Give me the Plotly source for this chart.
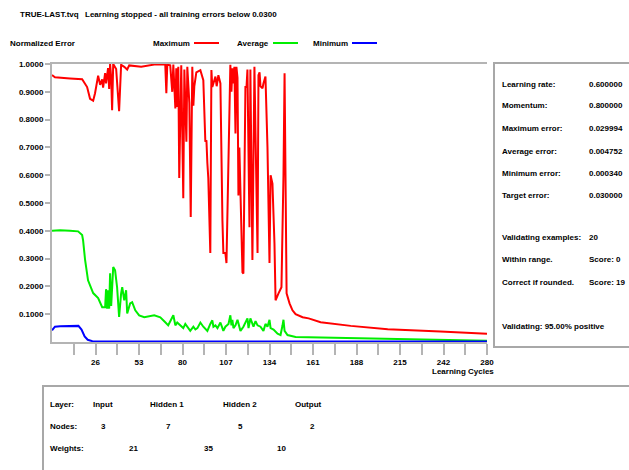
import plotly.graph_objects as go

# ---------------- data ----------------
max_x = [0, 1.9, 11.6, 19.4, 22.6, 24.5, 26.5, 27.7, 29.7, 31.0, 32.3, 32.9, 34.2, 34.8, 36.1, 36.8,
         37.4, 38.1, 38.7, 39.4, 41.3, 43.2, 44.5, 46.5, 48.4, 49.7, 57.4, 65.8, 72.9, 73.6, 74.2,
         76.1, 77.4, 78.1, 79.4, 80.0, 80.6, 81.3, 81.9, 82.6, 83.2, 84.5, 85.2, 86.5, 87.1, 88.4,
         89.3, 90.3, 91.0, 91.6, 92.9, 95.5, 97.4, 98.7, 99.4, 100.0, 100.6, 101.9, 102.6, 103.2,
         103.9, 105.2, 106.0, 107.1, 108.4, 109.0, 109.7, 110.3, 111.6, 112.3, 113.0, 114.8, 115.5,
         116.1, 116.8, 117.4, 118.1, 118.7, 119.4, 120.0, 120.6, 121.3, 122.6, 123.2, 124.5, 125.2,
         125.8, 127.1, 127.7, 129.0, 130.3, 131.0, 132.3, 132.9, 133.6, 134.2, 135.5, 136.1, 136.8,
         137.4, 138.7, 140.0, 140.7, 141.9, 143.2, 143.9, 145.8, 147.7, 149.0, 149.7, 150.3, 151.0,
         152.9, 154.8, 156.8, 161.3, 165.2, 172.9, 192.3, 216.1, 250.0, 280.0]
max_y = [0.960, 0.952, 0.948, 0.945, 0.917, 0.875, 0.868, 0.895, 0.958, 0.925, 0.945, 0.915, 0.967,
         0.930, 0.985, 0.910, 1.000, 0.950, 0.834, 1.000, 0.982, 0.830, 0.997, 0.990, 0.980, 0.995,
         0.990, 0.998, 0.998, 0.895, 0.998, 0.995, 0.900, 0.998, 0.840, 0.985, 0.845, 0.990, 0.590,
         0.770, 0.995, 0.517, 0.980, 0.720, 0.990, 0.860, 0.450, 0.990, 0.850, 0.920, 0.970, 0.978,
         0.942, 0.720, 0.726, 0.644, 0.590, 0.320, 0.978, 0.917, 0.930, 0.955, 0.920, 0.960, 0.930,
         0.590, 0.437, 0.320, 0.320, 0.284, 0.500, 0.997, 0.900, 0.985, 0.930, 0.990, 0.750, 0.990,
         0.950, 0.527, 0.700, 0.535, 0.250, 0.246, 0.917, 0.917, 0.980, 0.413, 0.980, 0.295, 0.990,
         0.750, 0.320, 0.960, 0.970, 0.920, 0.913, 0.930, 0.950, 0.955, 0.700, 0.284, 0.600, 0.570,
         0.354, 0.150, 0.175, 0.197, 0.600, 0.967, 0.600, 0.175, 0.139, 0.114, 0.100, 0.089, 0.085,
         0.071, 0.058, 0.046, 0.038, 0.030]

avg_x = [0, 5.2, 11.6, 16.8, 19.4, 20.0, 21.3, 23.2, 26.5, 29.7, 32.3, 34.2, 34.8, 35.5, 36.1, 36.8,
         37.4, 38.1, 39.4, 40.6, 41.9, 43.2, 44.5, 45.2, 46.5, 47.7, 48.4, 50.3, 51.6, 53.6, 56.1,
         59.4, 65.8, 69.7, 72.9, 74.8, 78.1, 79.4, 80.6, 82.6, 84.5, 85.8, 87.1, 89.0, 91.0, 92.3,
         93.6, 95.5, 97.4, 100.0, 101.9, 103.2, 103.9, 105.2, 106.5, 108.4, 110.3, 111.6, 113.6,
         114.8, 115.5, 116.1, 116.8, 118.1, 119.4, 121.3, 123.2, 125.8, 126.5, 127.7, 129.7, 131.0,
         132.3, 134.2, 136.1, 137.4, 138.7, 140.0, 140.7, 142.6, 145.2, 147.1, 148.4, 149.0, 149.7,
         151.6, 156.8, 165.2, 185.8, 220.0, 250.0, 280.0]
avg_y = [0.400, 0.402, 0.400, 0.398, 0.385, 0.366, 0.295, 0.222, 0.176, 0.158, 0.125, 0.125, 0.190,
         0.120, 0.186, 0.120, 0.247, 0.130, 0.270, 0.258, 0.197, 0.090, 0.175, 0.197, 0.150, 0.186,
         0.103, 0.139, 0.143, 0.114, 0.096, 0.089, 0.096, 0.089, 0.071, 0.060, 0.096, 0.060, 0.070,
         0.060, 0.050, 0.065, 0.055, 0.040, 0.055, 0.045, 0.050, 0.070, 0.055, 0.040, 0.065, 0.078,
         0.055, 0.060, 0.050, 0.070, 0.040, 0.055, 0.065, 0.096, 0.060, 0.080, 0.050, 0.060, 0.080,
         0.040, 0.055, 0.085, 0.050, 0.085, 0.055, 0.075, 0.060, 0.055, 0.040, 0.065, 0.055, 0.080,
         0.050, 0.045, 0.030, 0.025, 0.060, 0.080, 0.040, 0.025, 0.018, 0.017, 0.013, 0.010, 0.007,
         0.0048]

min_x = [0, 1.9, 5.2, 11.6, 14.0, 17.0, 19.0, 21.0, 23.0, 26.0, 40.0, 280.0]
min_y = [0.042, 0.055, 0.057, 0.058, 0.060, 0.058, 0.045, 0.020, 0.008, 0.003, 0.002, 0.0015]

series_names = ["Maximum", "Average", "Minimum"]
series_colors = ["#ff0000", "#00ee00", "#0000ff"]

x_tick_vals = [14, 28, 42, 56, 70, 84, 98, 112, 126, 140, 154, 168, 182, 196, 210, 224, 238, 252, 266, 280]
x_tick_text = ["", "26", "", "53", "", "80", "", "107", "", "134", "", "161", "", "188", "", "215", "", "242", "", "280"]
y_tick_vals = [0.1, 0.2, 0.3, 0.4, 0.5, 0.6, 0.7, 0.8, 0.9, 1.0]
y_tick_text = ["0.1000", "0.2000", "0.3000", "0.4000", "0.5000", "0.6000", "0.7000", "0.8000", "0.9000", "1.0000"]

file_name = "TRUE-LAST.tvq"
status_text = "Learning stopped - all training errors below 0.0300"
y_title = "Normalized Error"
x_title = "Learning Cycles"

stat_labels = ["Learning rate:", "Momentum:", "Maximum error:", "Average error:", "Minimum error:", "Target error:"]
stat_values = ["0.600000", "0.800000", "0.029994", "0.004752", "0.000340", "0.030000"]
valid_labels = ["Validating examples:", "Within range.", "Correct if rounded."]
valid_values = ["20", "Score: 0", "Score: 19"]
valid_summary = "Validating: 95.00% positive"

layer_names = ["Input", "Hidden 1", "Hidden 2", "Output"]
layer_nodes = ["3", "7", "5", "2"]
layer_weights = ["21", "35", "10"]

# ---------------- layout helpers ----------------
W, H = 629, 470
PL, PR, PT, PB = 52, 487, 64, 342
FONT = "Liberation Sans, Arial, sans-serif"
FS = 8
GRAY = "#b4b4b4"


def fx(px):
    return (px - PL) / (PR - PL)


def fy(py):
    return (PB - py) / (PB - PT)


fig = go.Figure()
for xs, ys, name, col in zip([max_x, avg_x, min_x], [max_y, avg_y, min_y], series_names, series_colors):
    fig.add_trace(go.Scatter(x=xs, y=ys, mode="lines", name=name,
                             line=dict(color=col, width=2), showlegend=False))

annotations = []
shapes = []


def txt(px, py, s, anchor="left", size=FS):
    annotations.append(dict(x=fx(px), y=fy(py), xref="paper", yref="paper", text=s,
                            showarrow=False, xanchor=anchor, yanchor="middle",
                            borderpad=0,
                            font=dict(family=FONT, size=size, color="#000000", weight=700)))


txt(19, 15, file_name)
txt(84, 15, status_text)
txt(9, 43, y_title)

leg_x = [158, 237, 316]
for lx, name, col in zip(leg_x, series_names, series_colors):
    txt(lx + 33, 43, name, anchor="right")
    shapes.append(dict(type="line", xref="paper", yref="paper", x0=fx(lx + 36), x1=fx(lx + 61),
                       y0=fy(43), y1=fy(43), line=dict(color=col, width=2)))

txt(495, 371, x_title, anchor="right")

# right panel
shapes.append(dict(type="rect", xref="paper", yref="paper", x0=fx(494), x1=fx(632), y0=fy(63), y1=fy(347),
                   line=dict(color="#a8a8a8", width=2), fillcolor="rgba(0,0,0,0)"))
row_y = [84, 106, 128, 151, 173, 195]
for ry, lab, val in zip(row_y, stat_labels, stat_values):
    txt(501, ry, lab)
    txt(588, ry, val)
vrow_y = [237, 259, 282]
for ry, lab, val in zip(vrow_y, valid_labels, valid_values):
    txt(501, ry, lab)
    txt(588, ry, val)
txt(501, 326, valid_summary)

# bottom panel
shapes.append(dict(type="rect", xref="paper", yref="paper", x0=fx(43), x1=fx(632), y0=fy(386), y1=fy(475),
                   line=dict(color="#a8a8a8", width=2), fillcolor="rgba(0,0,0,0)"))
txt(49, 404, "Layer:")
txt(49, 426, "Nodes:")
txt(49, 448, "Weights:")
for lx, s in zip([92, 149, 222, 294], layer_names):
    txt(lx, 404, s)
for lx, s in zip([100, 165, 237, 309], layer_nodes):
    txt(lx, 426, s)
for lx, s in zip([128, 203, 276], layer_weights):
    txt(lx, 448, s)

fig.update_layout(
    width=W, height=H,
    margin=dict(l=PL, r=W - PR, t=PT, b=H - PB),
    paper_bgcolor="white", plot_bgcolor="white",
    annotations=annotations, shapes=shapes,
    xaxis=dict(range=[0, 280], tickmode="array", tickvals=x_tick_vals, ticktext=x_tick_text,
               automargin=False,
               showgrid=False, zeroline=False, showline=True, linecolor=GRAY, linewidth=2, mirror=True,
               ticks="outside", ticklen=11, tickwidth=2, tickcolor=GRAY,
               tickfont=dict(family=FONT, size=FS, color="#000000", weight=700)),
    yaxis=dict(range=[0, 1], tickmode="array", tickvals=y_tick_vals, ticktext=y_tick_text,
               automargin=False,
               showgrid=False, zeroline=False, showline=True, linecolor=GRAY, linewidth=2,
               ticks="outside", ticklen=5, tickwidth=2, tickcolor=GRAY,
               tickfont=dict(family=FONT, size=FS, color="#000000", weight=700)),
)

fig.write_html("out.html", config={"displayModeBar": False},
               post_script="document.body.style.margin='0';document.body.style.overflow='hidden';")
